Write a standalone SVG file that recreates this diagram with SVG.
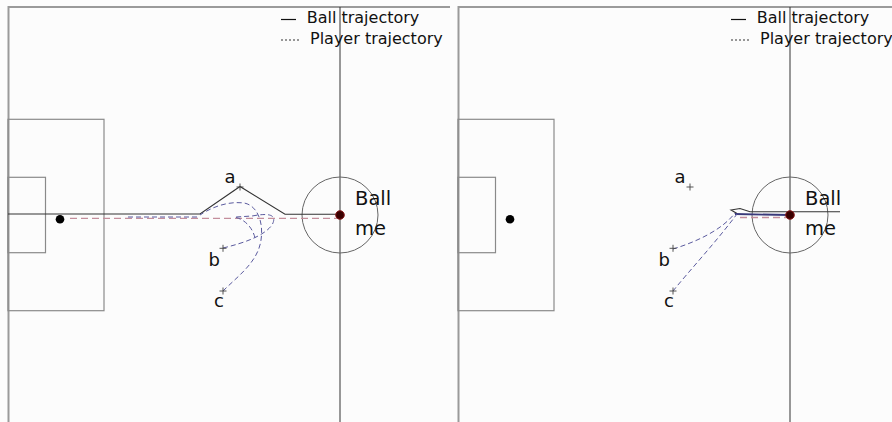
<svg xmlns="http://www.w3.org/2000/svg" width="892" height="422" viewBox="0 0 892 422">
<style>
.frame{stroke:#9a9a9a;stroke-width:2;fill:none}
.line{stroke:#333;stroke-width:1;fill:none}
.box{stroke:#8a8a8a;stroke-width:1.2;fill:none}
.circ{stroke:#666;stroke-width:1;fill:none}
.ball{stroke:#333;stroke-width:1.1;fill:none}
.pl{stroke:#5a5a9e;stroke-width:1;fill:none;stroke-dasharray:5 3}
.pink{stroke:#c48e9c;stroke-width:1.3;fill:none;stroke-dasharray:7 4}
.mk{stroke:#444;stroke-width:0.9;fill:none}
.lab{font-family:"DejaVu Sans",sans-serif;font-size:18px;fill:#111}
.big{font-family:"DejaVu Sans",sans-serif;font-size:19.5px;fill:#111}
.leg{font-family:"DejaVu Sans",sans-serif;font-size:16px;fill:#111}
</style>
<rect x="0" y="0" width="892" height="422" fill="#fcfcfc"/>
<g id="left-panel">
<path class="frame" d="M8.5,422 V7 H450"/>
<line class="line" x1="340" y1="7" x2="340" y2="422"/>
<rect class="box" x="8" y="119.3" width="96" height="191.4"/>
<rect class="box" x="8" y="177.3" width="37.5" height="75.4"/>
<circle class="circ" cx="340" cy="215" r="38"/>
<circle cx="60" cy="219.3" r="4.3" fill="#000"/>
</g>
<g id="right-panel">
<path class="frame" d="M458.5,422 V7 H892"/>
<line class="line" x1="790" y1="7" x2="790" y2="422"/>
<rect class="box" x="458" y="119.3" width="96" height="191.4"/>
<rect class="box" x="458" y="177.3" width="37.5" height="75.4"/>
<circle class="circ" cx="790" cy="215" r="38"/>
<circle cx="510" cy="219.3" r="4.3" fill="#000"/>
</g>
<g id="connectors">
<path class="pink" d="M70,218.3 H338"/>
<path class="pl" d="M128,217 H200"/>
<path class="ball" d="M8,214 H200 L240,186.5 L285,214.3 H340"/>
<path class="pl" d="M223,291 C238,276 258,262 261,240 C264,220 256,205 244,203 C228,201 212,207 200,215"/>
<path class="pl" d="M223,248 C244,243 264,236 272,225 C278,214 268,213 252,216 L236,217"/>
<path class="pl" d="M236,217.5 C246,220 253,229 255,238" stroke-dasharray="5 2 1 2"/>
<path class="pink" d="M740,217.5 H788"/>
<path class="ball" d="M840,211.7 H750 L740,208.5 L731,210 L737,213.5"/>
<path d="M735,214 L790,215" stroke="#3a3a7a" stroke-width="1.8" fill="none"/>
<path class="pl" d="M673,249 C696,242 722,230 735,213"/>
<path class="pl" d="M673,291 C690,270 716,242 737,214"/>
</g>
<g id="markers">
<circle cx="340" cy="215" r="4.3" fill="#3a0000" stroke="#8b1a1a" stroke-width="1"/>
<circle cx="790" cy="215" r="4.3" fill="#3a0000" stroke="#8b1a1a" stroke-width="1"/>
<path class="mk" d="M236.5,187 h7 M240,183.5 v7 M219.5,248.3 h7 M223,244.8 v7 M219.5,291 h7 M223,287.5 v7"/>
<path class="mk" d="M686.5,187 h7 M690,183.5 v7 M669.5,248.3 h7 M673,244.8 v7 M669.5,291 h7 M673,287.5 v7"/>
</g>
<g id="labels">
<text class="lab" x="224.5" y="183">a</text>
<text class="lab" x="208.5" y="266">b</text>
<text class="lab" x="214" y="307">c</text>
<text class="big" x="355" y="205">Ball</text>
<text class="big" x="355" y="235">me</text>
<text class="lab" x="674.5" y="183">a</text>
<text class="lab" x="658.5" y="266">b</text>
<text class="lab" x="664" y="307">c</text>
<text class="big" x="805" y="205">Ball</text>
<text class="big" x="805" y="235">me</text>
</g>
<g id="legend-left">
<line x1="281" y1="19.5" x2="296" y2="19.5" stroke="#111" stroke-width="1.2"/>
<line x1="281" y1="40" x2="300" y2="40" stroke="#333" stroke-width="1" stroke-dasharray="2 2"/>
<text class="leg" x="306.7" y="23.3">Ball trajectory</text>
<text class="leg" x="310" y="44">Player trajectory</text>
</g>
<g id="legend-right">
<line x1="731" y1="19.5" x2="746" y2="19.5" stroke="#111" stroke-width="1.2"/>
<line x1="731" y1="40" x2="750" y2="40" stroke="#333" stroke-width="1" stroke-dasharray="2 2"/>
<text class="leg" x="756.7" y="23.3">Ball trajectory</text>
<text class="leg" x="760" y="44">Player trajectory</text>
</g>
</svg>
